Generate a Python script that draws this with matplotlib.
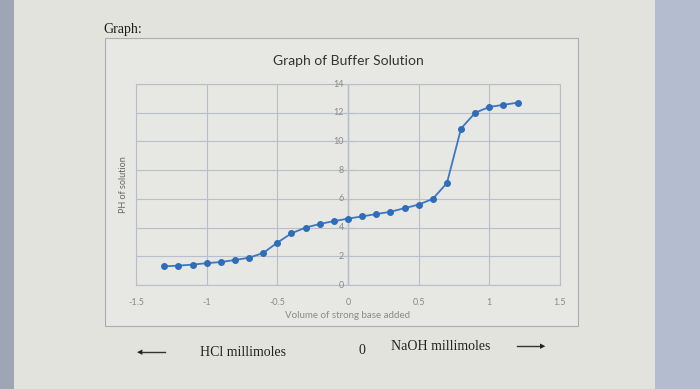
import matplotlib.pyplot as plt
from matplotlib.patches import Rectangle

# data
base_added = [-1.3, -1.2, -1.1, -1.0, -0.9, -0.8, -0.7, -0.6, -0.5, -0.4, -0.3, -0.2, -0.1,
              0.0, 0.1, 0.2, 0.3, 0.4, 0.5, 0.6, 0.7, 0.8, 0.9, 1.0, 1.1, 1.2]
ph = [1.3, 1.35, 1.42, 1.52, 1.6, 1.74, 1.9, 2.23, 2.95, 3.6, 4.0, 4.25, 4.45,
      4.62, 4.78, 4.94, 5.1, 5.35, 5.6, 6.0, 7.1, 10.9, 12.0, 12.4, 12.55, 12.7]
xticks = [-1.5, -1, -0.5, 0, 0.5, 1, 1.5]
xtick_labels = ["-1.5", "-1", "-0.5", "0", "0.5", "1", "1.5"]
yticks = [0, 2, 4, 6, 8, 10, 12, 14]

page = "#e3e3de"
inner = "#e7e7e3"
grid_c = "#b9bfca"
text_c = "#8a8a8a"

fig = plt.figure(figsize=(7, 3.89), dpi=100)
fig.patch.set_facecolor(page)

# screen edges around the page
fig.add_artist(Rectangle((0, 0), 14 / 700, 1, transform=fig.transFigure,
                         facecolor="#9ea6b4", edgecolor="none", zorder=-2))
fig.add_artist(Rectangle((655 / 700, 0), 45 / 700, 1, transform=fig.transFigure,
                         facecolor="#b4bccf", edgecolor="none", zorder=-2))

# chart area frame
fig.add_artist(Rectangle((105 / 700, 1 - 326 / 389), 473 / 700, 288 / 389,
                         transform=fig.transFigure, facecolor=inner,
                         edgecolor="#a9adb3", linewidth=0.8, zorder=-2))

fig.text(103 / 700, 1 - 30 / 389, "Graph:", family="Liberation Serif", fontsize=10,
         color="#1a1a1a", va="center")

ax = fig.add_axes([136 / 700, 104 / 389, 424 / 700, 201 / 389])
ax.set_facecolor(inner)
ax.set_xlim(-1.5, 1.5)
ax.set_ylim(0, 14)
ax.set_xticks(xticks)
ax.set_xticklabels(xtick_labels)
ax.set_yticks(yticks)
ax.grid(True, color=grid_c, linewidth=0.8)
for s in ax.spines.values():
    s.set_color(grid_c)
    s.set_linewidth(0.8)

# y axis drawn at x = 0
ax.axvline(0, color="#a8afbd", linewidth=1.0, zorder=1)
for y in yticks:
    ax.plot([-0.04, 0.04], [y, y], color="#a8afbd", linewidth=0.8, zorder=1)
    ax.text(-0.03, y, str(y), fontsize=6.5, color=text_c, ha="right", va="center",
            family="Lato")
ax.tick_params(axis="y", left=False, labelleft=False)
ax.tick_params(axis="x", bottom=False, labelsize=6.5, labelcolor=text_c, pad=6)
for lab in ax.get_xticklabels():
    lab.set_family("Lato")

ax.plot(base_added, ph, color="#3b78c4", linewidth=1.3, marker="o",
        markersize=4, markerfacecolor="#2f6db8", markeredgecolor="#2f6db8", zorder=3)

ax.set_title("Graph of Buffer Solution", fontsize=10, color="#333333", pad=14,
             family="Lato")
ax.set_xlabel("Volume of strong base added", fontsize=7, color=text_c, labelpad=3,
              family="Lato")
ax.set_ylabel("PH of solution", fontsize=6.5, color="#666666", labelpad=6,
              family="Lato")

# bottom annotation row
fig.text(243 / 700, 1 - 352 / 389, "HCl millimoles", family="Liberation Serif",
         fontsize=10, color="#222222", ha="center", va="center")
fig.text(362 / 700, 1 - 350 / 389, "0", family="Liberation Serif", fontsize=10,
         color="#222222", ha="center", va="center")
fig.text(441 / 700, 1 - 347 / 389, "NaOH millimoles", family="Liberation Serif",
         fontsize=10, color="#222222", ha="center", va="center")
fig.add_artist(plt.Line2D([140 / 700, 165 / 700], [1 - 352 / 389, 1 - 352 / 389],
                          transform=fig.transFigure, color="#333333", linewidth=1))
fig.add_artist(plt.Line2D([517 / 700, 542 / 700], [1 - 346 / 389, 1 - 346 / 389],
                          transform=fig.transFigure, color="#333333", linewidth=1))
fig.text(140 / 700, 1 - 352 / 389, "\u25c0", fontsize=5, color="#222222",
         ha="center", va="center")
fig.text(543 / 700, 1 - 346 / 389, "\u25b6", fontsize=5, color="#222222",
         ha="center", va="center")

fig.savefig("out.png", dpi=100, facecolor=page)
